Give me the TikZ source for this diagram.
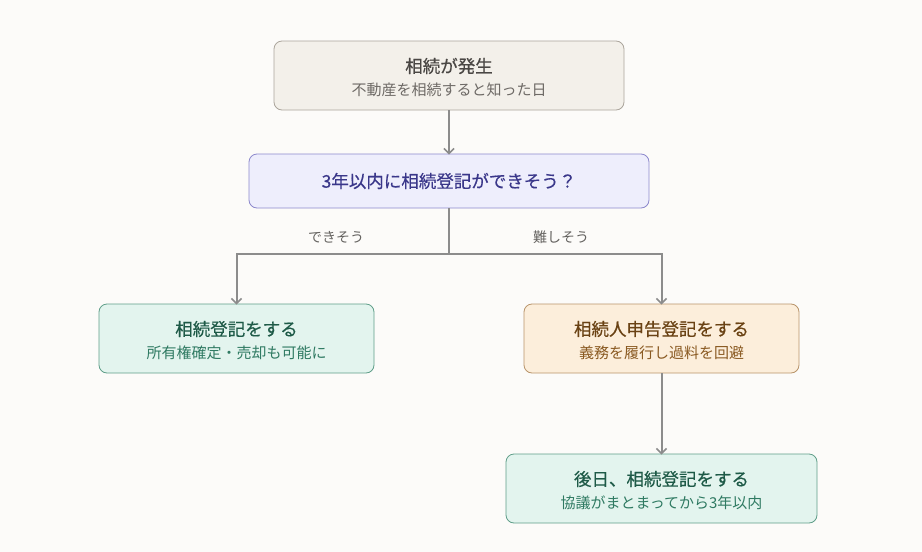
\documentclass[tikz,border=0pt]{standalone}
\usepackage{fontspec}
\setmainfont{Noto Sans CJK JP}
\newfontfamily\medfont[FakeBold=0.5]{Noto Sans CJK JP}
\usetikzlibrary{arrows.meta,positioning}
\definecolor{bg}{HTML}{FCFBF9}
\definecolor{lineg}{HTML}{8C8C8C}
\definecolor{bgA}{HTML}{F3F0EA}\definecolor{bdA}{HTML}{ABA59C}
\definecolor{txA}{HTML}{4A4744}\definecolor{stA}{HTML}{6E6A66}
\definecolor{bgQ}{HTML}{EEEEFC}\definecolor{bdQ}{HTML}{8C88CC}
\definecolor{txQ}{HTML}{3A378A}
\definecolor{bgG}{HTML}{E3F4EE}\definecolor{bdG}{HTML}{5F9E89}
\definecolor{txG}{HTML}{1E5A47}\definecolor{stG}{HTML}{2F7A62}
\definecolor{bgO}{HTML}{FCEEDB}\definecolor{bdO}{HTML}{B8946A}
\definecolor{txO}{HTML}{6A4214}\definecolor{stO}{HTML}{8A5A22}
\tikzset{
  boxbase/.style={rounded corners=8pt, line width=0.8pt, inner sep=0pt},
  ttl/.style={font=\medfont\fontsize{17.5}{20}\selectfont, inner sep=0pt, anchor=center},
  sbt/.style={font=\fontsize{15}{18}\selectfont, inner sep=0pt, anchor=center},
  conn/.style={draw=lineg, line width=2pt, -{Straight Barb[length=5pt,width=10pt,line width=1.6pt]}},
  connl/.style={draw=lineg, line width=2pt},
  lbl/.style={font=\fontsize{14}{16}\selectfont, text=txA!85}
}
\begin{document}
\begin{tikzpicture}[x=1pt,y=-1pt]
\fill[bg] (0,0) rectangle (922,552);
\useasboundingbox (0,0) rectangle (922,552);
\node[boxbase, fill=bgA, draw=bdA, minimum width=350pt, minimum height=69pt] (start) at (449,75.5) {};
\node[ttl, text=txA] (startT) at (449,66) {相続が発生};
\node[sbt, text=stA] (startS) at (449,89.5) {不動産を相続すると知った日};
\node[boxbase, fill=bgQ, draw=bdQ, minimum width=400pt, minimum height=54pt] (q) at (449,181) {};
\node[ttl, text=txQ] (qT) at (449,181) {3年以内に相続登記ができそう？};
\node[boxbase, fill=bgG, draw=bdG, minimum width=275pt, minimum height=69pt] (left) at (236.5,338.5) {};
\node[ttl, text=txG] (leftT) at (236.5,329) {相続登記をする};
\node[sbt, text=stG] (leftS) at (236.5,352.5) {所有権確定・売却も可能に};
\node[boxbase, fill=bgO, draw=bdO, minimum width=275pt, minimum height=69pt] (right) at (661.5,338.5) {};
\node[ttl, text=txO] (rightT) at (661.5,329) {相続人申告登記をする};
\node[sbt, text=stO] (rightS) at (661.5,352.5) {義務を履行し過料を回避};
\node[boxbase, fill=bgG, draw=bdG, minimum width=311pt, minimum height=69pt] (later) at (661.5,488.5) {};
\node[ttl, text=txG] (laterT) at (661.5,479) {後日、相続登記をする};
\node[sbt, text=stG] (laterS) at (661.5,502.5) {協議がまとまってから3年以内};
\coordinate (split) at (449,254);
\draw[conn] (start.south) -- ([yshift=-1pt]q.north);
\draw[connl] (q.south) -- (split);
\draw[conn] (split) -| ([yshift=-1pt]left.north);
\draw[conn] (split) -| ([yshift=-1pt]right.north);
\draw[conn] (right.south) -- ([yshift=-1pt]later.north);
\node[lbl] (lyes) at (336,237) {できそう};
\node[lbl] (lno) at (561,237) {難しそう};
\end{tikzpicture}
\end{document}
